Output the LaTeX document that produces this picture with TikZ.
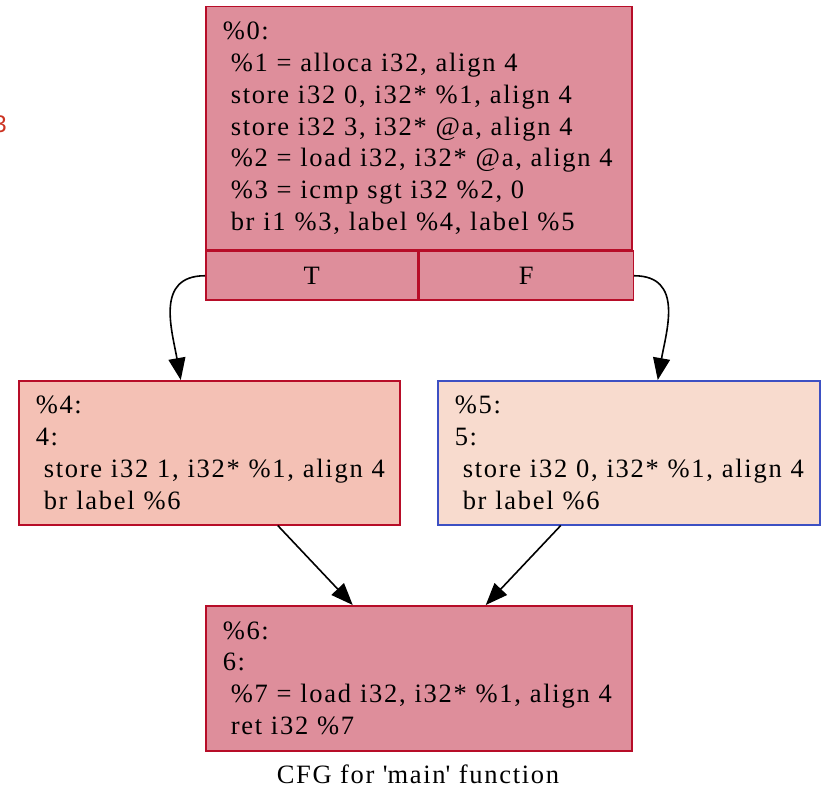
\documentclass[tikz,border=0pt]{standalone}
\usepackage{fontspec}
\setmainfont[LetterSpace=6.5]{Liberation Serif}
\newfontfamily\marksans{Liberation Sans}
\usetikzlibrary{positioning, arrows.meta}

\definecolor{blkred}{HTML}{B70D28}
\definecolor{blkblue}{HTML}{3D50C3}
\definecolor{fillhot}{HTML}{DE8E9B}
\definecolor{fillwarm}{HTML}{F4C1B5}
\definecolor{fillcool}{HTML}{F8DBCE}
\definecolor{markred}{HTML}{CC3322}
\newcommand{\ind}{\hspace*{8pt}}

\begin{document}
\begin{tikzpicture}[x=1pt, y=1pt, >={Triangle[length=22pt, width=17pt]},
	blk/.style={draw=blkred, fill=fillhot, line width=1.5pt, rectangle, inner xsep=17pt, inner ysep=0pt, align=left, anchor=north west, font=\fontsize{26.5}{31.8}\selectfont},
	port/.style={draw=blkred, fill=fillhot, line width=1.5pt, rectangle, inner sep=0pt, minimum height=49pt, font=\fontsize{26.5}{31.8}\selectfont},
	flow/.style={->, line width=1.6pt}]

		\path[use as bounding box, fill=white] (0,0) rectangle (821,-791);

		\node[blk, text width=392pt, minimum height=243pt] (blk0) at (205,-6) {\%0:\\ \ind\%1 = alloca i32, align 4\\ \ind store i32 0, i32* \%1, align 4\\ \ind store i32 3, i32* @a, align 4\\ \ind\%2 = load i32, i32* @a, align 4\\ \ind\%3 = icmp sgt i32 \%2, 0\\ \ind br i1 \%3, label \%4, label \%5};
		\node[port, minimum width=212pt, anchor=north west] (blk0T) at (blk0.south west) {T};
		\node[port, minimum width=214pt, right=0pt of blk0T] (blk0F) {F};

		\node[blk, fill=fillwarm, text width=347pt, minimum height=144pt] (blk4) at (18,-380) {\%4:\\ 4:\\ \ind\mbox{store i32 1, i32* \%1, align 4}\\ \ind br label \%6};
		\node[blk, draw=blkblue, fill=fillcool, text width=348pt, minimum height=144pt] (blk5) at (437,-380) {\%5:\\ 5:\\ \ind\mbox{store i32 0, i32* \%1, align 4}\\ \ind br label \%6};
		\node[blk, text width=392pt, minimum height=145pt] (blk6) at (205,-605) {\%6:\\ 6:\\ \ind\%7 = load i32, i32* \%1, align 4\\ \ind ret i32 \%7};

		\node[anchor=base, inner sep=0pt, font=\fontsize{26.5}{31.8}\selectfont] (title) at (418,-783) {CFG for \textquotesingle main\textquotesingle\ function};
		\node[anchor=base east, inner sep=0pt, text=markred, font=\marksans\fontsize{24}{24}\selectfont] (mark3) at (7,-133) {3};

		\draw[flow] (blk0T.west) to[out=180, in=100, looseness=1.2] ([xshift=-28.5pt]blk4.north);
		\draw[flow] (blk0F.east) to[out=0, in=80, looseness=1.2] ([xshift=29pt]blk5.north);
		\draw[flow] ([xshift=68.5pt]blk4.south) -- ([xshift=-66pt]blk6.north);
		\draw[flow] ([xshift=-68pt]blk5.south) -- ([xshift=67pt]blk6.north);

\end{tikzpicture}
\end{document}
